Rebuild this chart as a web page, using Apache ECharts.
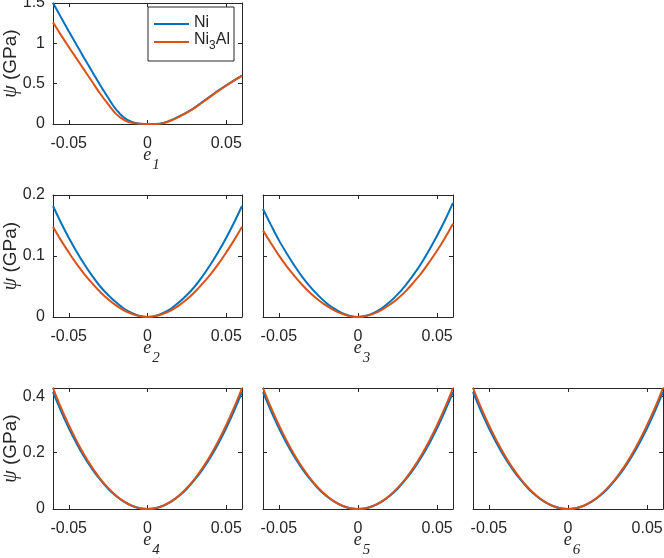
<!DOCTYPE html>
<html>
<head>
<meta charset="utf-8">
<script src="https://cdn.jsdelivr.net/npm/echarts@6/dist/echarts.min.js"></script>
<style>html,body{margin:0;padding:0;background:#fff;}#c{width:664px;height:558px;}</style>
</head>
<body>
<div id="c"></div>
<script>
// strain values (x axis)
const strain = [-0.06,-0.055,-0.05,-0.045,-0.04,-0.035,-0.03,-0.025,-0.02,-0.015,-0.01,-0.005,0,
                0.005,0.01,0.015,0.02,0.025,0.03,0.035,0.04,0.045,0.05,0.055,0.06];
const xTicks = [-0.05, 0, 0.05];
const yTicks1 = [0, 0.5, 1, 1.5];
const yTicks2 = [0, 0.1, 0.2];
const yTicks3 = [0, 0.2, 0.4];
const yMax = [1.5, 0.2, 0.43];

// psi (GPa)
const e1Ni    = [1.50,1.325,1.15,0.98,0.81,0.645,0.48,0.325,0.18,0.08,0.026,0.004,0,
                 0.001,0.014,0.048,0.095,0.145,0.205,0.275,0.345,0.415,0.48,0.54,0.60];
const e1Ni3Al = [1.26,1.105,0.955,0.81,0.665,0.52,0.375,0.245,0.125,0.05,0.014,0.002,0,
                 0.0,0.011,0.044,0.09,0.14,0.20,0.27,0.34,0.41,0.475,0.54,0.60];
const e2Ni    = [0.182,0.155,0.130,0.107,0.086,0.067,0.050,0.036,0.024,0.014,0.0066,0.0018,0,
                 0.0018,0.0066,0.014,0.024,0.036,0.050,0.067,0.086,0.107,0.130,0.155,0.182];
const e2Ni3Al = [0.148,0.126,0.106,0.087,0.070,0.055,0.041,0.029,0.019,0.011,0.0054,0.0015,0,
                 0.0015,0.0054,0.011,0.019,0.029,0.041,0.055,0.070,0.087,0.106,0.126,0.148];
const e3Ni    = [0.177,0.151,0.126,0.104,0.0835,0.065,0.049,0.035,0.023,0.0136,0.0064,0.0018,0,
                 0.0019,0.0068,0.0144,0.0245,0.037,0.052,0.069,0.088,0.110,0.1335,0.159,0.187];
const e3Ni3Al = [0.142,0.121,0.101,0.083,0.067,0.052,0.039,0.028,0.0186,0.011,0.0052,0.0014,0,
                 0.0015,0.0056,0.0118,0.020,0.030,0.042,0.0565,0.072,0.090,0.109,0.130,0.153];
const e4Ni    = [0.415,0.349,0.288,0.233,0.184,0.141,0.104,0.072,0.046,0.026,0.0115,0.0029,0,
                 0.0029,0.0115,0.026,0.046,0.072,0.104,0.141,0.184,0.233,0.288,0.349,0.415];
const e4Ni3Al = [0.43,0.361,0.299,0.242,0.191,0.146,0.1075,0.075,0.048,0.027,0.012,0.003,0,
                 0.003,0.012,0.027,0.048,0.075,0.1075,0.146,0.191,0.242,0.299,0.361,0.43];
const e5Ni = e4Ni, e5Ni3Al = e4Ni3Al, e6Ni = e4Ni, e6Ni3Al = e4Ni3Al;

const panels = [
  {k:'1', ni:e1Ni, al:e1Ni3Al, row:0, col:0, ticks:yTicks1},
  {k:'2', ni:e2Ni, al:e2Ni3Al, row:1, col:0, ticks:yTicks2},
  {k:'3', ni:e3Ni, al:e3Ni3Al, row:1, col:1, ticks:yTicks2},
  {k:'4', ni:e4Ni, al:e4Ni3Al, row:2, col:0, ticks:yTicks3},
  {k:'5', ni:e5Ni, al:e5Ni3Al, row:2, col:1, ticks:yTicks3},
  {k:'6', ni:e6Ni, al:e6Ni3Al, row:2, col:2, ticks:yTicks3}
];

const INK = '#262626';
const SANS = '"Liberation Sans", Arial, Helvetica, sans-serif';
const SERIF = '"Liberation Serif", "Times New Roman", serif';
const BLUE = '#0072BD', ORANGE = '#D95319';
const rowTop = [3, 195, 388], rowH = [121, 122, 121];
const colLeft = [53, 263, 473], colW = [189, 190, 190];

const grid = [], xAxis = [], yAxis = [], series = [];
const pairs = v => strain.map((x, i) => [x, v[i]]);

panels.forEach((p, i) => {
  grid.push({left: colLeft[p.col], top: rowTop[p.row], width: colW[p.col], height: rowH[p.row],
             outerBoundsMode: 'none', containLabel: false});
  const tickCommon = {show: true, inside: true, length: 4, lineStyle: {color: INK, width: 1}};
  xAxis.push({
    type: 'value', gridIndex: i, min: -0.06, max: 0.06, position: 'bottom',
    axisLine: {show: true, onZero: false, lineStyle: {color: INK, width: 1}},
    axisTick: Object.assign({customValues: xTicks}, tickCommon),
    axisLabel: {customValues: xTicks, color: INK, fontFamily: SANS, fontSize: 16, margin: 12,
                formatter: v => (v === 0 ? '0' : String(v))},
    splitLine: {show: false},
    name: '{e|e}{s|' + p.k + '}', nameLocation: 'middle', nameGap: 22, nameMoveOverlap: false,
    nameTextStyle: {color: INK, rich: {
      e: {fontFamily: SERIF, fontStyle: 'italic', fontSize: 18, color: INK, verticalAlign: 'top', lineHeight: 18, padding: [0, 0, 0, 8]},
      s: {fontFamily: SERIF, fontStyle: 'italic', fontSize: 15, color: INK, verticalAlign: 'bottom', lineHeight: 27, padding: [0, 0, 0, 1]}
    }}
  });
  xAxis.push({
    type: 'value', gridIndex: i, min: -0.06, max: 0.06, position: 'top',
    axisLine: {show: true, onZero: false, lineStyle: {color: INK, width: 1}},
    axisTick: Object.assign({customValues: xTicks}, tickCommon),
    axisLabel: {show: false}, splitLine: {show: false}
  });
  const yl = {
    type: 'value', gridIndex: i, min: 0, max: yMax[p.row], position: 'left',
    axisLine: {show: true, onZero: false, lineStyle: {color: INK, width: 1}},
    axisTick: Object.assign({customValues: p.ticks}, tickCommon),
    axisLabel: {show: p.col === 0, customValues: p.ticks, color: INK, fontFamily: SANS, fontSize: 16, margin: 8},
    splitLine: {show: false}
  };
  if (p.col === 0) {
    Object.assign(yl, {
      name: '{p|ψ} (GPa)', nameLocation: 'middle', nameRotate: 90, nameGap: 32, nameMoveOverlap: false,
      nameTextStyle: {color: INK, fontFamily: SANS, fontSize: 19, rich: {
        p: {fontFamily: SERIF, fontStyle: 'italic', fontSize: 20, color: INK}
      }}
    });
  }
  yAxis.push(yl);
  yAxis.push({
    type: 'value', gridIndex: i, min: 0, max: yMax[p.row], position: 'right',
    axisLine: {show: true, onZero: false, lineStyle: {color: INK, width: 1}},
    axisTick: Object.assign({customValues: p.ticks}, tickCommon),
    axisLabel: {show: false}, splitLine: {show: false}
  });
  const common = {type: 'line', xAxisIndex: 2 * i, yAxisIndex: 2 * i, symbol: 'none', showSymbol: false,
                  smooth: 0.35, clip: true, animation: false};
  series.push(Object.assign({name: 'Ni', data: pairs(p.ni), lineStyle: {color: BLUE, width: 2}, itemStyle: {color: BLUE}}, common));
  series.push(Object.assign({name: 'Ni3Al', data: pairs(p.al), lineStyle: {color: ORANGE, width: 2}, itemStyle: {color: ORANGE}}, common));
});

const chart = echarts.init(document.getElementById('c'), null, {renderer: 'canvas'});
chart.setOption({
  animation: false,
  backgroundColor: '#ffffff',
  grid, xAxis, yAxis, series,
  legend: {
    data: ['Ni', 'Ni3Al'], orient: 'vertical', left: 148, top: 7,
    icon: 'rect', itemWidth: 35, itemHeight: 2,
    backgroundColor: '#ffffff', borderColor: INK, borderWidth: 1, borderRadius: 0,
    padding: [8, 4, 9, 6], itemGap: 1,
    selectedMode: false,
    formatter: n => (n === 'Ni3Al' ? '{t|Ni}{s|3}{t|Al}' : '{t|Ni}'),
    textStyle: {color: INK, fontFamily: SANS, fontSize: 16, rich: {
      t: {fontFamily: SANS, fontSize: 16, color: INK, verticalAlign: 'top', lineHeight: 18},
      s: {fontFamily: SANS, fontSize: 12, color: INK, verticalAlign: 'bottom', lineHeight: 20}
    }}
  }
});
</script>
</body>
</html>
